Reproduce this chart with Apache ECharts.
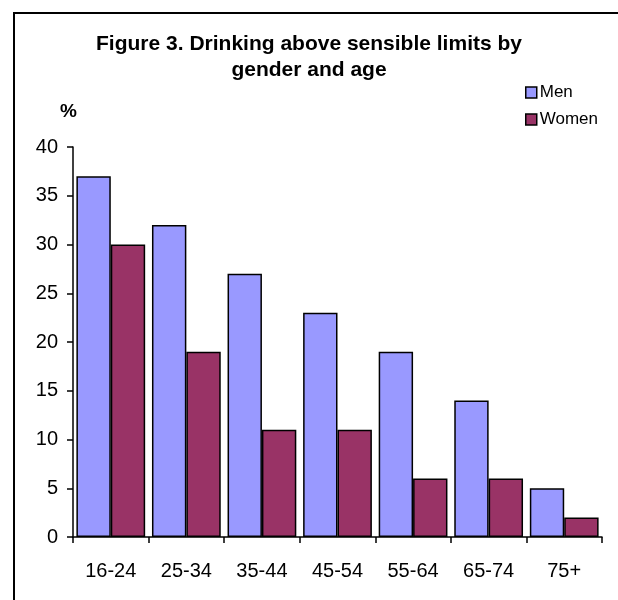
<!DOCTYPE html>
<html>
<head>
<meta charset="utf-8">
<script src="https://cdn.jsdelivr.net/npm/echarts@6/dist/echarts.min.js"></script>
<style>html,body{margin:0;padding:0;background:#fff}#c{width:618px;height:600px}</style>
</head>
<body>
<div id="c"></div>
<script>
const categories = ['16-24','25-34','35-44','45-54','55-64','65-74','75+'];
const men = [37, 32, 27, 23, 19, 14, 5];
const women = [30, 19, 11, 11, 6, 6, 2];
const seriesNames = ['Men', 'Women'];
const titleText = 'Figure 3. Drinking above sensible limits by\ngender and age';
const yUnit = '%';

const chart = echarts.init(document.getElementById('c'), null, {renderer: 'canvas'});
const font = 'Arial, "Liberation Sans", sans-serif';
chart.setOption({
  animation: false,
  backgroundColor: '#fff',
  title: {
    text: titleText,
    left: 'center',
    top: 26,
    padding: [5, 5, 5, 13],
    textStyle: {fontFamily: font, fontWeight: 'bold', fontSize: 21, lineHeight: 26, color: '#000'}
  },
  legend: {
    orient: 'vertical',
    left: 525,
    top: 84,
    padding: 0,
    itemWidth: 11,
    itemHeight: 11,
    itemGap: 10,
    icon: 'rect',
    data: seriesNames,
    textStyle: {fontFamily: font, fontSize: 17, color: '#000', padding: [0,0,0,-2]},
    itemStyle: {borderColor: '#000', borderWidth: 1.5}
  },
  graphic: [
    {type: 'rect', shape: {x: 14, y: 13, width: 800, height: 800}, style: {fill: 'none', stroke: '#000', lineWidth: 2}, silent: true},
    {type: 'text', left: 60, top: 102, style: {text: yUnit, font: 'bold 19px ' + font, fill: '#000'}}
  ],
  grid: {left: 73, right: 16, top: 147, bottom: 63, containLabel: false},
  xAxis: {
    type: 'category',
    data: categories,
    axisLine: {lineStyle: {color: '#000', width: 1.5}},
    axisTick: {show: true, length: 6, lineStyle: {color: '#000', width: 1.5}},
    axisLabel: {fontFamily: font, fontSize: 20, color: '#000', margin: 24},
    splitLine: {show: false}
  },
  yAxis: {
    type: 'value',
    min: 0, max: 40, interval: 5,
    axisLine: {show: true, lineStyle: {color: '#000', width: 1.5}},
    axisTick: {show: true, length: 6, lineStyle: {color: '#000', width: 1.5}},
    axisLabel: {fontFamily: font, fontSize: 20, color: '#000', margin: 15},
    splitLine: {show: false}
  },
  series: [
    {name: seriesNames[0], type: 'bar', data: men, barGap: '0%', barCategoryGap: '9%',
     itemStyle: {color: '#9999FF', borderColor: '#000', borderWidth: 1.5}},
    {name: seriesNames[1], type: 'bar', data: women, barGap: '0%', barCategoryGap: '9%',
     itemStyle: {color: '#993366', borderColor: '#000', borderWidth: 1.5}}
  ]
});
</script>
</body>
</html>
